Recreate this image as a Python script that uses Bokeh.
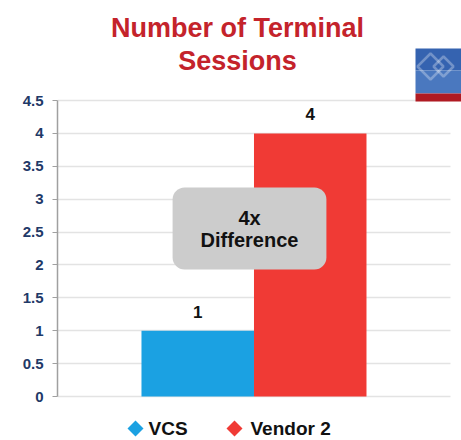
from bokeh.plotting import figure
from bokeh.models import (ColumnDataSource, FactorRange, FixedTicker, NumeralTickFormatter,
                          Label, BoxAnnotation, PolyAnnotation, Range1d)
from bokeh.core.properties import value
from bokeh.transform import dodge
from bokeh.embed import file_html
from bokeh.resources import INLINE

# ---- data ----
series = ["VCS", "Vendor 2"]
sessions = [1, 4]
colors = ["#1ba1e2", "#f03a35"]
y_ticks = [0, 0.5, 1, 1.5, 2, 2.5, 3, 3.5, 4, 4.5]
y_max = 4.5
title_lines = ["Number of Terminal", "Sessions"]
callout = "4x\nDifference"

FONT = "Liberation Sans"
W, H = 461, 440
# value axis occupies page pixels 100 (top, 4.5) .. 396 (bottom, 0); the frame spans the
# whole canvas height so that the title / legend / logo annotations are not clipped.
AX_TOP, AX_BOTTOM = 100, 396
ppu = (AX_BOTTOM - AX_TOP) / y_max
y_start = -(H - AX_BOTTOM) / ppu
y_end = y_max + AX_TOP / ppu

src = ColumnDataSource(dict(series=series, sessions=sessions, colors=colors,
                            labels=[str(v) for v in sessions]))

p = figure(width=W, height=H, output_backend="svg", toolbar_location=None,
           x_range=FactorRange(factors=series, range_padding=0.7955),
           y_range=Range1d(y_start, y_end),
           min_border_left=57, min_border_right=0, min_border_top=0, min_border_bottom=0)
p.outline_line_color = None
p.background_fill_color = "white"
p.border_fill_color = "white"

SHIFT = -0.049
p.vbar(x=dodge("series", SHIFT, range=p.x_range), top="sessions", width=1.0, source=src,
       fill_color="colors", line_color=None)
p.text(x=dodge("series", SHIFT, range=p.x_range), y="sessions", text="labels", source=src,
       text_align="center", text_baseline="middle", y_offset=-19, text_font=value(FONT),
       text_font_style="bold", text_font_size="17px", text_color="#111111")

# axes
p.xaxis.visible = False
p.xgrid.grid_line_color = None
yax = p.yaxis[0]
yax.bounds = (0, y_max)
yax.ticker = FixedTicker(ticks=y_ticks)
yax.formatter = NumeralTickFormatter(format="0.[0]")
yax.axis_line_color = "#a0a0a0"
yax.axis_line_width = 1.5
yax.major_tick_line_color = "#a0a0a0"
yax.major_tick_out = 5
yax.major_tick_in = 0
yax.minor_tick_line_color = None
yax.major_label_standoff = 9
yax.major_label_text_font = FONT
yax.major_label_text_font_style = "bold"
yax.major_label_text_font_size = "15px"
yax.major_label_text_color = "#1f3a68"
p.ygrid.ticker = FixedTicker(ticks=y_ticks)
p.ygrid.bounds = (0, y_max)
p.ygrid.grid_line_color = "#e3e3e3"
p.ygrid.grid_line_width = 1.5

# plot area ends at page x=450: blank strip on the right (under the logo)
p.add_layout(BoxAnnotation(left=393, right=404, top=340, bottom=0,
                           left_units="screen", right_units="screen",
                           top_units="screen", bottom_units="screen",
                           fill_color="white", fill_alpha=1, line_color=None))

# title
for i, t in enumerate(title_lines):
    p.add_layout(Label(x=180, y=413 - 33 * i, x_units="screen", y_units="screen", text=t,
                       text_align="center", text_baseline="middle", text_font=FONT,
                       text_font_style="bold", text_font_size="27px", text_color="#c4232b"))

# callout box
p.add_layout(Label(x=192, y=212, x_units="screen", y_units="screen", text=callout,
                   text_align="center", text_baseline="middle", text_font=FONT,
                   text_font_style="bold", text_font_size="20px", text_color="#111111",
                   text_line_height=1.0,
                   background_fill_color="#cccccc", border_radius=12,
                   padding=dict(x=28, y=19)))

# legend (diamond key + label for each series)
LEG_Y = 12
for (mx, tx), s, c in zip([(78, 91), (177, 193)], series, colors):
    p.add_layout(PolyAnnotation(xs=[mx - 8, mx, mx + 8, mx],
                                ys=[LEG_Y, LEG_Y + 8, LEG_Y, LEG_Y - 8],
                                xs_units="screen", ys_units="screen",
                                fill_color=c, fill_alpha=1, line_color=None))
    p.add_layout(Label(x=tx, y=LEG_Y, x_units="screen", y_units="screen", text=s,
                       text_align="left", text_baseline="middle", text_font=FONT,
                       text_font_style="bold", text_font_size="19px", text_color="#111111"))

# logo
p.add_layout(BoxAnnotation(left=358, right=404, top=392, bottom=370,
                           left_units="screen", right_units="screen",
                           top_units="screen", bottom_units="screen",
                           fill_color="#3563b0", fill_alpha=1, line_color=None))
p.add_layout(BoxAnnotation(left=358, right=404, top=370, bottom=347,
                           left_units="screen", right_units="screen",
                           top_units="screen", bottom_units="screen",
                           fill_color="#4a78bf", fill_alpha=1, line_color=None))
p.add_layout(BoxAnnotation(left=358, right=404, top=347, bottom=339,
                           left_units="screen", right_units="screen",
                           top_units="screen", bottom_units="screen",
                           fill_color="#b01a22", fill_alpha=1, line_color=None))
for cx, hw in [(373, 13), (386, 10)]:
    cy = 374
    p.add_layout(PolyAnnotation(xs=[cx - hw, cx, cx + hw, cx], ys=[cy, cy + hw, cy, cy - hw],
                                xs_units="screen", ys_units="screen",
                                fill_alpha=0, line_color="white", line_width=2.5))

open("out.html", "w").write(file_html(p, INLINE))
